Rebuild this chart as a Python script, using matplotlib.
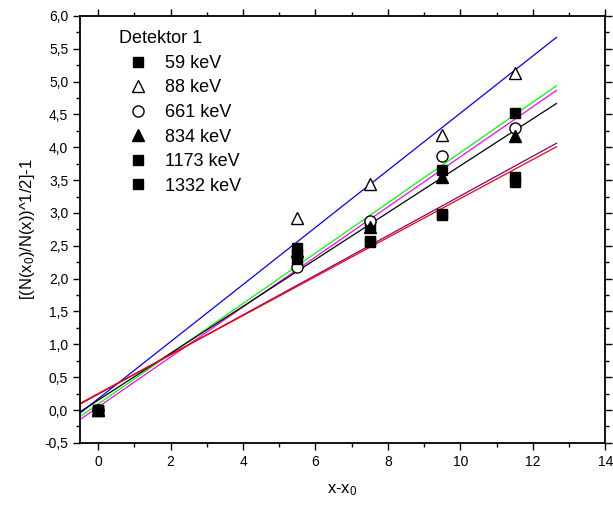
import matplotlib
matplotlib.use("Agg")
import matplotlib.pyplot as plt
import numpy as np
from matplotlib.ticker import MultipleLocator, FuncFormatter

plt.rcParams["font.family"] = ["Liberation Sans", "DejaVu Sans"]
plt.rcParams["mathtext.default"] = "regular"

# ── Data ──────────────────────────────────────────────────────────────────────
X = [0, 5.5, 7.5, 9.5, 11.5]

LABELS = ["59 keV", "88 keV", "661 keV", "834 keV", "1173 keV", "1332 keV"]

Y_59 = [0, 2.47, 2.80, 3.66, 4.52]
Y_88 = [0, 2.92, 3.44, 4.19, 5.13]
Y_661 = [0, 2.17, 2.87, 3.87, 4.29]
Y_834 = [0, 2.42, 2.79, 3.55, 4.17]
Y_1173 = [0, 2.30, 2.57, 2.98, 3.55]
Y_1332 = [0, 2.38, 2.56, 2.97, 3.47]

# linear fits (slope, intercept) as drawn in the reference
SLOPES = [0.383, 0.435, 0.381, 0.357, 0.302, 0.297]
INTERCEPTS = [0.09, 0.17, 0.045, 0.15, 0.24, 0.25]
FIT_RANGE = [-0.5, 12.65]

# ── Styles ────────────────────────────────────────────────────────────────────
MARKERS = [
    dict(marker="s", mfc="black", mec="black", ms=7),
    dict(marker="^", mfc="white", mec="black", ms=9, mew=1.0),
    dict(marker="o", mfc="white", mec="black", ms=8, mew=1.0),
    dict(marker="^", mfc="black", mec="black", ms=9),
    dict(marker="s", mfc="black", mec="black", ms=7),
    dict(marker="s", mfc="black", mec="black", ms=7),
]
LINE_COLORS = ["#00ff00", "#0000ff", "#ff00ff", "#000000", "#800080", "#ff0000"]


def main():
    fig = plt.figure(figsize=(6.13, 5.12), dpi=100)
    ax = fig.add_axes([0.1305, 0.135, 0.857, 0.834])

    series = [Y_59, Y_88, Y_661, Y_834, Y_1173, Y_1332]
    xf = np.array(FIT_RANGE)

    # fit lines first, markers on top
    for k, b, c in zip(SLOPES, INTERCEPTS, LINE_COLORS):
        ax.plot(xf, k * xf + b, color=c, lw=0.9, zorder=2)

    handles = []
    for ys, lab, m in zip(series, LABELS, MARKERS):
        h, = ax.plot(X, ys, ls="none", label=lab, zorder=3, **m)
        handles.append(h)

    ax.set_xlim(-0.5, 14)
    ax.set_ylim(-0.5, 6.0)
    ax.xaxis.set_major_locator(MultipleLocator(2))
    ax.xaxis.set_minor_locator(MultipleLocator(1))
    ax.yaxis.set_major_locator(MultipleLocator(0.5))
    ax.yaxis.set_minor_locator(MultipleLocator(0.25))
    ax.yaxis.set_major_formatter(
        FuncFormatter(lambda v, p: f"{v:.1f}".replace(".", ",")))

    ax.tick_params(which="both", direction="out", top=True, right=True,
                   labelsize=10, width=1.0)
    ax.tick_params(which="major", length=5)
    ax.tick_params(which="minor", length=3)
    for s in ax.spines.values():
        s.set_linewidth(1.3)

    ax.set_xlabel("x-x$_0$", fontsize=12, labelpad=10)
    ax.set_ylabel("[(N(x$_0$)/N(x))^1/2]-1", fontsize=12, labelpad=5)

    ax.legend(handles=handles, title="Detektor 1", loc="upper left",
              bbox_to_anchor=(0.047, 1.0), frameon=False,
              fontsize=13, title_fontsize=13, alignment="left",
              handlelength=2.1, handletextpad=0.45, labelspacing=0.42,
              borderpad=0.3, numpoints=1)

    fig.savefig("out.png", dpi=100)


if __name__ == "__main__":
    main()
